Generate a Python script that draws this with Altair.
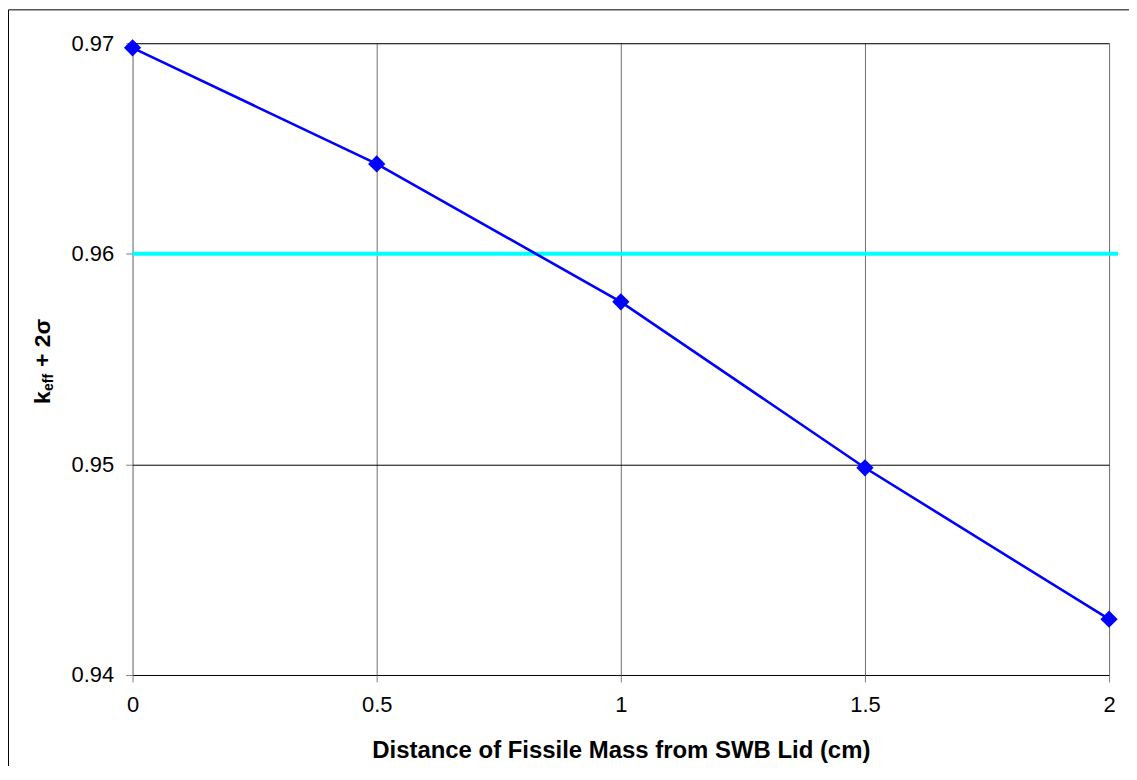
import altair as alt
import pandas as pd

distance = [0, 0.5, 1, 1.5, 2]
keff = [0.96978, 0.96427, 0.95772, 0.94984, 0.94265]
limit_value = 0.96

W, H = 980, 634
FONT = "Liberation Sans"

df = pd.DataFrame({"d": distance, "k": keff})

xs = alt.Scale(domain=[0, 2], nice=False, zero=False)
ys = alt.Scale(domain=[0.94, 0.97], nice=False, zero=False)

base = alt.Chart(df)

border = alt.Chart(pd.DataFrame({"a": [0]})).mark_rect(
    fill=None, stroke="black", strokeWidth=1, clip=False
).encode(
    x=alt.value(-124.5), x2=alt.value(1200),
    y=alt.value(-33.5), y2=alt.value(900)
)

line = base.mark_line(color="#0000FF", strokeWidth=2.6).encode(
    x=alt.X("d:Q", scale=xs,
            axis=alt.Axis(values=[0, 0.5, 1, 1.5, 2], format="~g",
                          title="Distance of Fissile Mass from SWB Lid (cm)",
                          grid=True, gridColor="#707070", gridOpacity=1,
                          tickColor="#808080", tickSize=7, domain=False,
                          labelFont=FONT, labelFontSize=22, labelColor="black", labelPadding=13,
                          labelFlush=False,
                          titleFont=FONT, titleFontSize=24, titleFontWeight="bold", titleColor="black",
                          titlePadding=23)),
    y=alt.Y("k:Q", scale=ys,
            axis=alt.Axis(values=[0.94, 0.95, 0.96, 0.97],
                          labelExpr="format(datum.value, '.2~f')",
                          title=None, grid=True, gridColor="black", gridOpacity=1,
                          tickColor="#808080", tickSize=7, domain=False,
                          labelFont=FONT, labelFontSize=22, labelColor="black", labelPadding=12,
                          labelFlush=False))
)

points = base.mark_point(shape="diamond", filled=True, color="#0000FF", size=300, opacity=1).encode(
    x=alt.X("d:Q", scale=xs), y=alt.Y("k:Q", scale=ys)
)

limit = alt.Chart(pd.DataFrame({"v": [limit_value]})).mark_rule(
    color="#00FFFF", strokeWidth=4, clip=False
).encode(
    y=alt.Y("v:Q", scale=ys), x=alt.value(0), x2=alt.value(W + 9)
)

ylab_k = alt.Chart(pd.DataFrame({"t": ["k"]})).mark_text(
    angle=270, align="left", baseline="alphabetic", font=FONT, fontSize=23, fontWeight="bold", color="black"
).encode(text="t:N", x=alt.value(-83), y=alt.value(362))
ylab_eff = alt.Chart(pd.DataFrame({"t": ["eff"]})).mark_text(
    angle=270, align="left", baseline="alphabetic", font=FONT, fontSize=14, fontWeight="bold", color="black"
).encode(text="t:N", x=alt.value(-80), y=alt.value(349))
ylab_rest = alt.Chart(pd.DataFrame({"t": ["+ 2σ"]})).mark_text(
    angle=270, align="left", baseline="alphabetic", font=FONT, fontSize=23, fontWeight="bold", color="black"
).encode(text="t:N", x=alt.value(-83), y=alt.value(325))

chart = alt.layer(border, limit, line, points, ylab_k, ylab_eff, ylab_rest).properties(
    width=W, height=H,
    autosize=alt.AutoSizeParams(type="none"),
    padding={"left": 125, "top": 34, "right": 20, "bottom": 90},
).configure_view(stroke="black", strokeWidth=1).configure(background="white")

chart.save("out.html", embed_options={"renderer": "svg", "actions": False})
